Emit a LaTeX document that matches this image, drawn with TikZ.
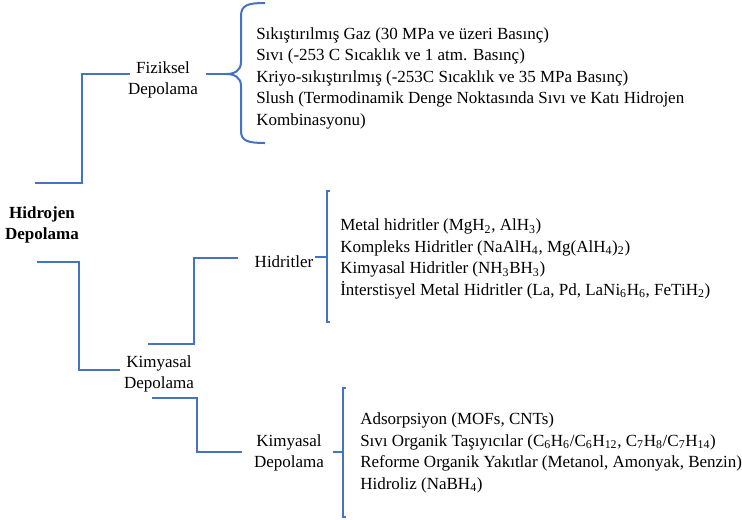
\documentclass[tikz,border=0pt]{standalone}
\usepackage{fontspec}
\setmainfont{Liberation Serif}
\definecolor{linkblue}{RGB}{68,114,196}
% chemical subscripts
\newcommand{\chsub}[1]{\textsubscript{#1}}
\begin{document}
\begin{tikzpicture}[x=0.75pt,y=-0.75pt,
  txt/.style={inner sep=0pt,font=\fontsize{12.75}{16.1}\selectfont},
  label/.style={txt,align=center},
  rootlabel/.style={label,font=\fontsize{12.75}{16.1}\selectfont\bfseries},
  list/.style={txt,align=left,anchor=west},
  link/.style={draw=linkblue,line width=1.5pt},
]
\useasboundingbox (0,0) rectangle (742,519);

% category labels
\node[rootlabel] (root) at (42,225) {Hidrojen\\Depolama};
\node[label] (fiz)  at (163,80)  {Fiziksel\\Depolama};
\node[label] (kim)  at (159,374) {Kimyasal\\Depolama};
\node[label] (hid)  at (284,262) {Hidritler};
\node[label] (kim2) at (289,453) {Kimyasal\\Depolama};

% item lists
\node[list] (fizlist) at (256,78) {%
Sıkıştırılmış Gaz (30 MPa ve üzeri Basınç)\\
Sıvı (-253 C Sıcaklık ve 1 atm. Basınç)\\
Kriyo-sıkıştırılmış (-253C Sıcaklık ve 35 MPa Basınç)\\
Slush (Termodinamik Denge Noktasında Sıvı ve Katı Hidrojen\\
Kombinasyonu)};
\node[list] (hidlist) at (340,259) {%
Metal hidritler (MgH\chsub{2}, AlH\chsub{3})\\
Kompleks Hidritler (NaAlH\chsub{4}, Mg(AlH\chsub{4})\chsub{2})\\
Kimyasal Hidritler (NH\chsub{3}BH\chsub{3})\\
İnterstisyel Metal Hidritler (La, Pd, LaNi\chsub{6}H\chsub{6}, FeTiH\chsub{2})};
\node[list] (kimlist) at (360,453) {%
Adsorpsiyon (MOFs, CNTs)\\
Sıvı Organik Taşıyıcılar (C\chsub{6}H\chsub{6}/C\chsub{6}H\chsub{12}, C\chsub{7}H\chsub{8}/C\chsub{7}H\chsub{14})\\
Reforme Organik Yakıtlar (Metanol, Amonyak, Benzin)\\
Hidroliz (NaBH\chsub{4})};

% connector ends
\coordinate (root-up)   at (35,183);
\coordinate (root-down) at (37,262);
\coordinate (fiz-in)    at (130,74);
\coordinate (fiz-out)   at (206,74);
\coordinate (kim-in)    at (120,370);
\coordinate (kim-up)    at (148,344);
\coordinate (kim-down)  at (152,398);
\coordinate (hid-in)    at (238,258);
\coordinate (hid-out)   at (315,257);
\coordinate (kim2-in)   at (242,452);
\coordinate (kim2-out)  at (333,452);
\coordinate (fiz-tip)   at (226,74);
\coordinate (hid-tip)   at (327,257);
\coordinate (kim2-tip)  at (343,452);

% elbow connectors
\draw[link] (root-up)   -- ++(47,0) |- (fiz-in);
\draw[link] (root-down) -- ++(42,0) |- (kim-in);
\draw[link] (kim-up)    -- ++(46,0) |- (hid-in);
\draw[link] (kim-down)  -- ++(45,0) |- (kim2-in);

% curly brace of the physical storage list
\draw[link] (fiz-out) -- (fiz-tip);
\draw[link] (265,3) .. controls (248,3) and (241,5) .. (241,16) -- (241,62)
  .. controls (241,71) and (234,74) .. (fiz-tip)
  .. controls (234,74) and (241,77) .. (241,86) -- (241,131)
  .. controls (241,141) and (248,143) .. (265,143);

% square brackets of the chemical storage lists
\draw[link] (hid-out) -- (hid-tip);
\draw[link] (330,191) -- (327,191) -- (327,322) -- (330,322);
\draw[link] (kim2-out) -- (kim2-tip);
\draw[link] (346,388) -- (343,388) -- (343,517) -- (346,517);
\end{tikzpicture}
\end{document}
